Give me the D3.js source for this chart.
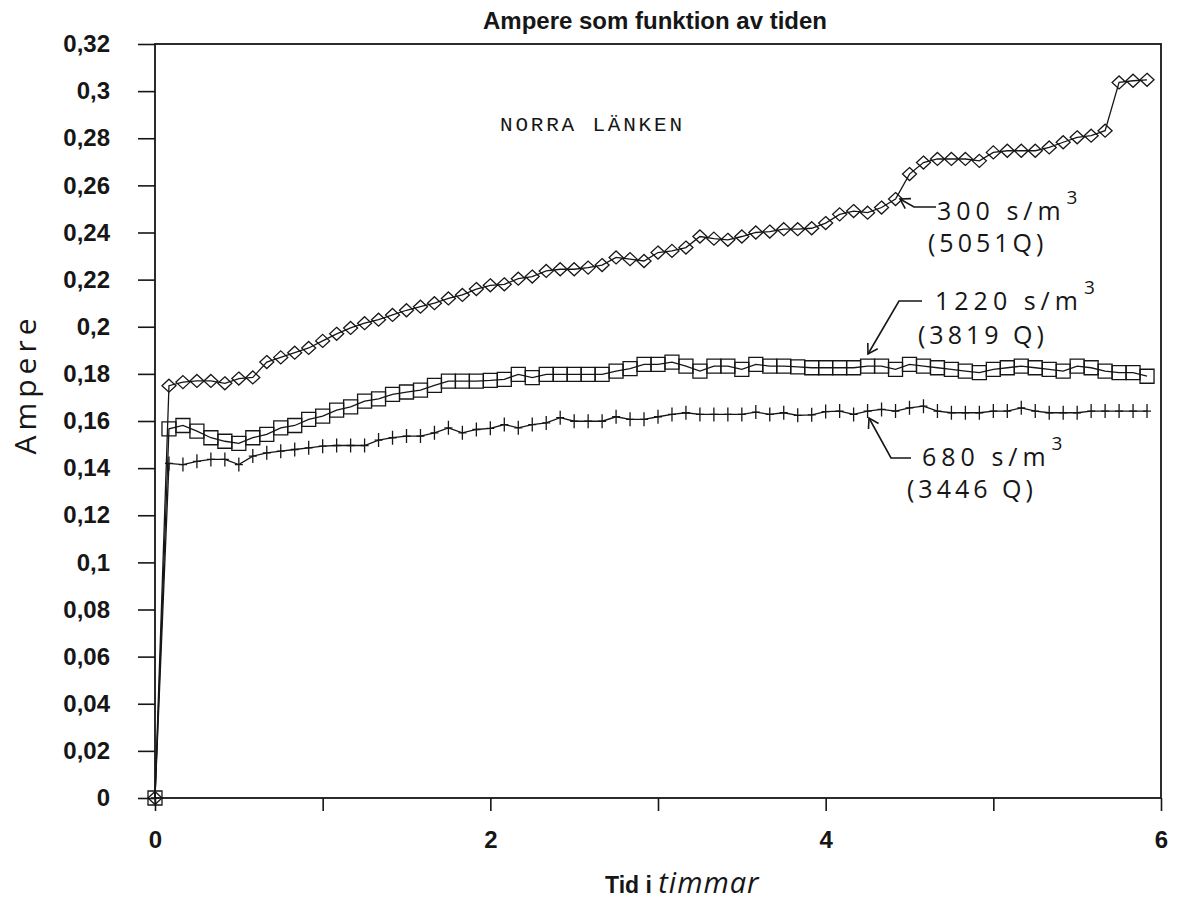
<!DOCTYPE html>
<html>
<head>
<meta charset="utf-8">
<script src="https://cdn.jsdelivr.net/npm/d3@7/dist/d3.min.js"></script>
<style>
  html, body { margin: 0; padding: 0; background: #fff; }
  svg { display: block; }
</style>
</head>
<body>
<svg id="chart" width="1187" height="911"></svg>
<script>
// Sampling times, minutes after start (every 5 minutes)
const minutes = [0,5,10,15,20,25,30,35,40,45,50,55,60,65,70,75,80,85,90,95,100,105,110,115,
  120,125,130,135,140,145,150,155,160,165,170,175,180,185,190,195,200,205,210,215,220,225,230,235,
  240,245,250,255,260,265,270,275,280,285,290,295,300,305,310,315,320,325,330,335,340,345,350,355];

// 300 s/m3 (5051 Q) – diamonds
const amp300 = [0,0.175,0.1765,0.177,0.177,0.176,0.178,0.1785,0.185,0.187,0.189,0.191,0.194,0.197,0.1995,0.2015,
  0.203,0.205,0.207,0.2085,0.210,0.212,0.2135,0.216,0.2176,0.218,0.2204,0.2213,0.2237,0.2244,0.2244,0.2251,
  0.2262,0.2294,0.2287,0.2279,0.2315,0.2322,0.2336,0.2383,0.2374,0.2369,0.2383,0.2400,0.2404,0.2414,0.2414,0.2418,
  0.2440,0.2477,0.2491,0.2484,0.2506,0.2542,0.2648,0.2697,0.2712,0.2712,0.2712,0.2704,0.2740,0.2747,0.2747,0.2747,
  0.2761,0.2783,0.2804,0.2811,0.2832,0.3037,0.3044,0.3048];

// 1220 s/m3 (3819 Q) – squares
const amp1220 = [0,0.1567,0.1581,0.1557,0.1529,0.1514,0.1505,0.1529,0.1543,0.1571,0.1581,0.1607,0.1621,0.1646,0.1660,0.1684,
  0.1694,0.1713,0.1723,0.1731,0.1751,0.1769,0.1769,0.1769,0.1772,0.1777,0.1798,0.1784,0.1798,0.1798,0.1798,0.1798,
  0.1798,0.1812,0.1822,0.1840,0.1840,0.1850,0.1833,0.1812,0.1833,0.1833,0.1819,0.1840,0.1833,0.1833,0.1830,0.1826,
  0.1826,0.1826,0.1826,0.1833,0.1833,0.1819,0.1840,0.1833,0.1826,0.1819,0.1812,0.1805,0.1819,0.1826,0.1833,0.1826,
  0.1819,0.1812,0.1833,0.1826,0.1812,0.1805,0.1805,0.1790];

// 680 s/m3 (3446 Q) – crosses
const amp680 = [0,0.1420,0.1415,0.1429,0.1437,0.1437,0.1415,0.1451,0.1465,0.1472,0.1479,0.1486,0.1493,0.1496,0.1496,0.1496,
  0.1519,0.1529,0.1536,0.1536,0.1550,0.1571,0.1550,0.1564,0.1569,0.1585,0.1571,0.1585,0.1592,0.1614,0.1599,0.1599,
  0.1599,0.1618,0.1607,0.1607,0.1618,0.1628,0.1635,0.1628,0.1628,0.1628,0.1628,0.1638,0.1628,0.1635,0.1624,0.1626,
  0.1640,0.1642,0.1628,0.1642,0.1649,0.1642,0.1656,0.1663,0.1642,0.1635,0.1635,0.1635,0.1642,0.1642,0.1656,0.1642,
  0.1635,0.1635,0.1635,0.1642,0.1642,0.1642,0.1642,0.1642];

const yTicks = [0,0.02,0.04,0.06,0.08,0.1,0.12,0.14,0.16,0.18,0.2,0.22,0.24,0.26,0.28,0.3,0.32];
const xTicks = [0,1,2,3,4,5,6];
const xLabelTicks = [0,2,4,6];

const title = "Ampere som funktion av tiden";
const subtitle = "NORRA LÄNKEN";

const ink = "#161616";
const svg = d3.select("#chart");
svg.append("rect").attr("width", 1187).attr("height", 911).attr("fill", "#fff");

const x = d3.scaleLinear().domain([0, 6]).range([155, 1161]);
const y = d3.scaleLinear().domain([0, 0.32]).range([798, 44]);

const sv = d3.formatLocale({decimal: ",", thousands: " ", grouping: [3], currency: ["", " kr"]});
const fmt = sv.format("~g");

const printFont = "'Liberation Sans', Arial, sans-serif";

// Y axis
const yAxis = svg.append("g")
  .attr("transform", `translate(${x(0)},0)`)
  .call(d3.axisLeft(y).tickValues(yTicks).tickSize(17).tickPadding(28).tickFormat(fmt));
yAxis.select(".domain").remove();
yAxis.selectAll(".tick line").attr("stroke", ink).attr("stroke-width", 1.6);
yAxis.selectAll(".tick text")
  .attr("fill", ink)
  .style("font-family", printFont)
  .style("font-weight", "bold")
  .style("font-size", "24px");

// X axis
const xAxis = svg.append("g")
  .attr("transform", `translate(0,${y(0)})`)
  .call(d3.axisBottom(x).tickValues(xTicks).tickSize(13).tickPadding(20)
    .tickFormat(d => xLabelTicks.includes(d) ? String(d) : ""));
xAxis.select(".domain").remove();
xAxis.selectAll(".tick line").attr("stroke", ink).attr("stroke-width", 1.6);
xAxis.selectAll(".tick text")
  .attr("fill", ink)
  .style("font-family", printFont)
  .style("font-weight", "bold")
  .style("font-size", "24px");

// Plot frame
svg.append("rect")
  .attr("x", x(0)).attr("y", y(0.32))
  .attr("width", x(6) - x(0)).attr("height", y(0) - y(0.32))
  .attr("fill", "none").attr("stroke", ink).attr("stroke-width", 1.8);

// Series
const hours = minutes.map(m => m / 60);
const series = [
  {name: "300", values: amp300, marker: "diamond"},
  {name: "1220", values: amp1220, marker: "square"},
  {name: "680", values: amp680, marker: "cross"}
];

const line = d3.line().x(d => x(d[0])).y(d => y(d[1]));

const markerPath = {
  diamond: "M0,-6.5L7,0L0,6.5L-7,0Z",
  square: "M-7,-7H7V7H-7Z",
  cross: "M0,-7V7M-4,0H4"
};

series.forEach(s => {
  const pts = hours.map((h, i) => [h, s.values[i]]);
  const g = svg.append("g").attr("class", "series-" + s.name);
  g.append("path")
    .attr("d", line(pts))
    .attr("fill", "none")
    .attr("stroke", ink)
    .attr("stroke-width", 1.3);
  g.selectAll("path.mk")
    .data(pts)
    .join("path")
    .attr("class", "mk")
    .attr("transform", d => `translate(${x(d[0])},${y(d[1])})`)
    .attr("d", markerPath[s.marker])
    .attr("fill", "none")
    .attr("stroke", ink)
    .attr("stroke-width", 1.3);
});

// Titles
svg.append("text")
  .attr("x", 655).attr("y", 29)
  .attr("text-anchor", "middle")
  .attr("fill", ink)
  .style("font-family", printFont)
  .style("font-weight", "bold")
  .style("font-size", "24px")
  .text(title);

svg.append("text")
  .attr("x", 500).attr("y", 131)
  .attr("fill", ink)
  .style("font-family", "'Liberation Mono', 'Courier New', monospace")
  .style("font-size", "21px")
  .style("letter-spacing", "2.8px")
  .text(subtitle);

// Axis titles
const hand = "'Open Sans', 'DejaVu Sans', sans-serif";
svg.append("text")
  .attr("transform", "translate(36,384) rotate(-90)")
  .attr("text-anchor", "middle")
  .attr("fill", ink)
  .style("font-family", hand)
  .style("font-weight", "400")
  .style("font-size", "30px")
  .style("letter-spacing", "5px")
  .text("Ampere");

const xl = svg.append("text")
  .attr("x", 605).attr("y", 893)
  .attr("fill", ink);
xl.append("tspan")
  .style("font-family", printFont)
  .style("font-weight", "bold")
  .style("font-size", "23px")
  .text("Tid i ");
xl.append("tspan")
  .style("font-family", hand)
  .style("font-weight", "400")
  .style("font-style", "italic")
  .style("font-size", "29px")
  .style("letter-spacing", "1px")
  .text("timmar");

// Two-line annotations with leader arrows; the cube exponent is a raised tspan
function note(x1, y1, t1, x2, y2, t2) {
  const a = svg.append("text")
    .attr("x", x1).attr("y", y1)
    .attr("fill", ink)
    .style("font-family", hand)
    .style("font-weight", "400")
    .style("font-size", "25px");
  a.append("tspan")
    .style("letter-spacing", "5px")
    .text(t1);
  a.append("tspan")
    .attr("dx", 1).attr("dy", -16)
    .style("font-size", "19px")
    .text("3");
  svg.append("text")
    .attr("x", x2).attr("y", y2)
    .attr("fill", ink)
    .style("font-family", hand)
    .style("font-weight", "400")
    .style("font-size", "25px")
    .style("letter-spacing", "4px")
    .text(t2);
}

function leader(pts) {
  svg.append("path")
    .attr("d", d3.line()(pts))
    .attr("fill", "none").attr("stroke", ink).attr("stroke-width", 1.6);
  const tip = pts[pts.length - 1], prev = pts[pts.length - 2];
  const a = Math.atan2(tip[1] - prev[1], tip[0] - prev[0]);
  const len = 11, spread = 0.55;
  const b1 = [tip[0] - len * Math.cos(a - spread), tip[1] - len * Math.sin(a - spread)];
  const b2 = [tip[0] - len * Math.cos(a + spread), tip[1] - len * Math.sin(a + spread)];
  svg.append("path")
    .attr("d", d3.line()([b1, tip, b2]))
    .attr("fill", "none").attr("stroke", ink).attr("stroke-width", 1.6);
}

note(937, 220, "300 s/m", 928, 252, "(5051Q)");
leader([[936, 207], [914, 207], [900, 199]]);

note(935, 310, "1220 s/m", 918, 344, "(3819 Q)");
leader([[922, 301], [899, 301], [868, 354]]);

note(922, 466, "680 s/m", 907, 498, "(3446 Q)");
leader([[911, 458], [891, 458], [869, 418]]);
</script>
</body>
</html>
